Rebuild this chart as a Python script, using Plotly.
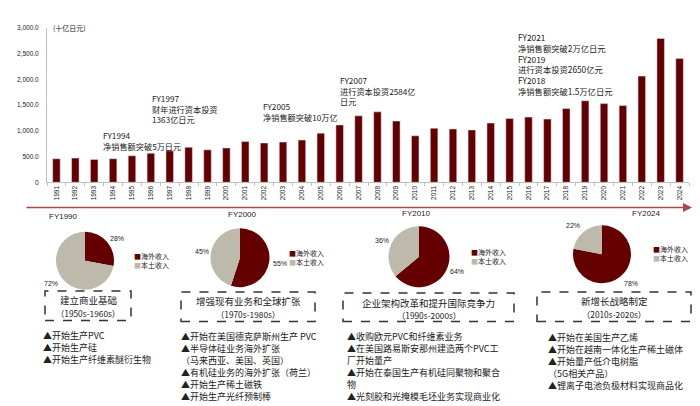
import plotly.graph_objects as go

W, H = 700, 406
FONT = "Noto Sans CJK SC, Liberation Sans, sans-serif"
NUMFONT = "Liberation Sans, Arial, sans-serif"
DARK = "#650000"
GRAY = "#BEBAAB"
TXT = "#222222"

# ---------------- data ----------------
years = [str(y) for y in range(1991, 2025)]
net_sales = [458, 470, 445, 458, 515, 565, 611, 680, 630, 668,
             794, 763, 782, 820, 954, 1113, 1290, 1367, 1189, 903,
             1050, 1036, 1017, 1151, 1240, 1265, 1227, 1431, 1584, 1527,
             1489, 2061, 2792, 2405]
y_ticks = [0, 500, 1000, 1500, 2000, 2500, 3000]
y_tick_text = ["0", "500.0", "1,000.0", "1,500.0", "2,000.0", "2,500.0", "3,000.0"]

pie_titles = ["FY1990", "FY2000", "FY2010", "FY2024"]
pie_labels = ["海外收入", "本土收入"]
overseas = [28, 55, 64, 78]
domestic = [72, 45, 36, 22]

bar_notes = [
    ["FY1994", "净销售额突破5万日元"],
    ["FY1997", "财年进行资本投资", "1363亿日元"],
    ["FY2005", "净销售额突破10万亿"],
    ["FY2007", "进行资本投资2584亿", "日元"],
    ["FY2021", "净销售额突破2万亿日元", "FY2019", "进行资本投资2650亿元",
     "FY2018", "净销售额突破1.5万亿日元"],
]

stage_titles = ["建立商业基础", "增强现有业务和全球扩张",
                "企业架构改革和提升国际竞争力", "新增长战略制定"]
stage_periods = ["（1950s-1960s）", "（1970s-1980s）", "（1990s-2000s）", "（2010s-2020s）"]
stage_items = [
    ["▲开始生产PVC", "▲开始生产硅", "▲开始生产纤维素醚衍生物"],
    ["▲开始在美国德克萨斯州生产 PVC", "▲半导体硅业务海外扩张", "（马来西亚、美国、英国）",
     "▲有机硅业务的海外扩张（荷兰）", "▲开始生产稀土磁铁", "▲开始生产光纤预制棒"],
    ["▲收购欧元PVC和纤维素业务", "▲在美国路易斯安那州建造两个PVC工", "厂开始量产",
     "▲开始在泰国生产有机硅同聚物和聚合", "物", "▲光刻胶和光掩模毛坯业务实现商业化"],
    ["▲开始在美国生产乙烯", "▲开始在越南一体化生产稀土磁体", "▲开始量产低介电树脂",
     "（5G相关产品）", "▲锂离子电池负极材料实现商品化"],
]

# ---------------- helpers ----------------
def px(x):
    return x / W

def py(y):
    return 1 - y / H

annotations = []
shapes = []

def text(x, y, s, size=8, xanchor="left", color=TXT, family=FONT, align="left"):
    annotations.append(dict(x=px(x), y=py(y), xref="paper", yref="paper", text=s,
                            showarrow=False, xanchor=xanchor, yanchor="middle", align=align,
                            font=dict(size=size, color=color, family=family)))

fig = go.Figure()

# ---------------- bar chart ----------------
fig.add_trace(go.Bar(x=years, y=net_sales, marker_color=DARK, width=0.4,
                     hoverinfo="x+y", showlegend=False))

fig.update_xaxes(domain=[px(39), px(681)], type="category", tickangle=-90,
                 tickfont=dict(size=6.5, family=NUMFONT, color=TXT),
                 showline=True, linecolor="#BFBFBF", linewidth=1,
                 ticks="outside", ticklen=3, tickcolor="#BFBFBF", tickson="boundaries",
                 showgrid=False, fixedrange=True)
fig.update_yaxes(domain=[py(173.3), py(16)], range=[0, 3000],
                 tickvals=y_ticks, ticktext=y_tick_text,
                 tickfont=dict(size=6.5, family=NUMFONT, color=TXT),
                 showline=True, linecolor="#BFBFBF", linewidth=1,
                 showgrid=False, zeroline=False, ticks="", ticklabelstandoff=6,
                 fixedrange=True)

text(43, 16, "(十亿日元)", size=7)

# (x, center y, font size) for each note block
note_pos = [(93, 130.5, 8.2), (142, 98.5, 8.2), (253, 101, 8.2),
            (330, 79.5, 8.2), (508, 53, 8.3)]
for (x, yc, fs), lines in zip(note_pos, bar_notes):
    text(x, yc, "<br>".join(lines), size=fs)

# timeline arrow
annotations.append(dict(x=px(684), y=py(199), xref="paper", yref="paper",
                        ax=-667, ay=0, axref="pixel", ayref="pixel", text="",
                        showarrow=True, arrowhead=2, arrowsize=1.2, arrowwidth=1.5,
                        arrowcolor="#A8484A"))

# ---------------- pies ----------------
pie_geo = [(77, 253, 29.5), (232, 250, 30), (411, 249, 31), (594, 246.5, 29.5)]
title_pos = [(55, 208), (235, 206), (408, 205), (638, 205)]
legend_pos = [(124, 253), (279, 249.5), (461, 248.5), (643, 246)]
pct_pos = [((109, 230), (43, 276)), ((272, 256), (194, 244)),
           ((449, 264), (374, 233)), ((623, 276), (565, 217))]

for i in range(4):
    cx, cy, r = pie_geo[i]
    fig.add_trace(go.Pie(values=[overseas[i], domestic[i]], labels=pie_labels,
                         marker=dict(colors=[DARK, GRAY], line=dict(width=0)),
                         sort=False, direction="clockwise", rotation=0,
                         textinfo="none", showlegend=False, hoverinfo="label+percent",
                         domain=dict(x=[px(cx - r), px(cx + r)], y=[py(cy + r), py(cy - r)])))
    tx, ty = title_pos[i]
    text(tx, ty, pie_titles[i], size=8, xanchor="center", family=NUMFONT)
    lx, ly = legend_pos[i]
    leg = (f'<span style="color:{DARK}">■</span>{pie_labels[0]}<br>'
           f'<span style="color:{GRAY}">■</span>{pie_labels[1]}')
    annotations.append(dict(x=px(lx), y=py(ly), xref="paper", yref="paper", text=leg,
                            showarrow=False, xanchor="left", yanchor="middle", align="left",
                            font=dict(size=7, color=TXT, family=FONT)))
    (ox, oy), (dx, dy) = pct_pos[i]
    text(ox, oy, f"{overseas[i]}%", size=7, xanchor="center", family=NUMFONT)
    text(dx, dy, f"{domestic[i]}%", size=7, xanchor="center", family=NUMFONT)

# ---------------- stage boxes ----------------
boxes = [(37, 123, 284, 314), (173, 307, 285, 315), (335, 506, 286, 315), (529, 683, 285, 315)]
box_text_y = [(293.5, 306.5), (294.5, 307), (296, 308), (294.5, 307)]
for (x0, x1, y0, y1), (t1, t2), title, period in zip(boxes, box_text_y, stage_titles, stage_periods):
    shapes.append(dict(type="rect", xref="paper", yref="paper",
                       x0=px(x0), x1=px(x1), y0=py(y1), y1=py(y0),
                       line=dict(color="#333333", width=1.5, dash="dash")))
    cxm = (x0 + x1) / 2
    text(cxm, t1, title, size=9.5, xanchor="center")
    text(cxm, t2, period, size=8.3, xanchor="center")

list_x = [33, 171, 337, 538]
list_y0 = [329, 330, 330, 331]
LINE = 12.2
for x, y0, items in zip(list_x, list_y0, stage_items):
    for k, s in enumerate(items):
        text(x, y0 + k * LINE, s, size=9)

fig.update_layout(width=W, height=H, margin=dict(l=0, r=0, t=0, b=0),
                  paper_bgcolor="white", plot_bgcolor="white",
                  bargap=0.6, annotations=annotations, shapes=shapes,
                  font=dict(family=FONT, color=TXT))

fig.write_html("out.html")
